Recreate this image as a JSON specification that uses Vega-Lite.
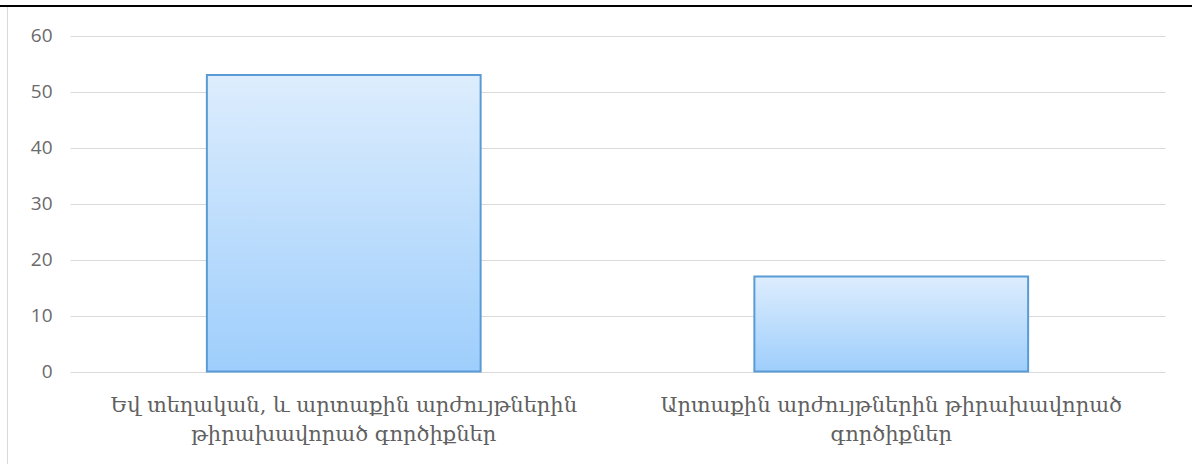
{
  "$schema": "https://vega.github.io/schema/vega-lite/v6.json",
  "width": 1192,
  "height": 458,
  "autosize": {"type": "none"},
  "padding": {"left": 0, "top": 6, "right": 0, "bottom": 0},
  "background": "white",
  "config": {"view": {"stroke": null}},
  "data": {
    "values": [
      {"category": "Եվ տեղական, և արտաքին արժույթներին\nթիրախավորած գործիքներ", "value": 53},
      {"category": "Արտաքին արժույթներին թիրախավորած\nգործիքներ", "value": 17}
    ]
  },
  "layer": [
    {
      "mark": {
        "type": "bar",
        "fill": {
          "gradient": "linear",
          "x1": 0, "y1": 0, "x2": 0, "y2": 1,
          "stops": [
            {"offset": 0, "color": "#ddedfd"},
            {"offset": 1, "color": "#9ecefc"}
          ]
        },
        "stroke": "#5b9bd5",
        "strokeWidth": 2
      },
      "encoding": {
        "x": {
          "field": "category",
          "type": "nominal",
          "sort": null,
          "scale": {"range": [70, 1165], "paddingInner": 0.5, "paddingOuter": 0.25},
          "axis": {
            "title": null,
            "orient": "bottom",
            "offset": -93,
            "domain": false,
            "ticks": false,
            "labelAngle": 0,
            "labelExpr": "split(datum.label, '\\n')",
            "labelFont": "DejaVu Serif",
            "labelFontSize": 21,
            "labelColor": "#606060",
            "labelPadding": 23,
            "labelLimit": 0,
            "labelLineHeight": 29
          }
        },
        "y": {
          "field": "value",
          "type": "quantitative",
          "scale": {"domain": [-16.506, 65.305], "nice": false, "zero": false},
          "axis": {
            "title": null,
            "values": [0, 10, 20, 30, 40, 50, 60],
            "offset": -7,
            "domainColor": "#d9d9d9",
            "ticks": false,
            "labelPadding": -45,
            "grid": true,
            "gridColor": "#d9d9d9",
            "labelFont": "Open Sans",
            "labelFontSize": 19,
            "labelColor": "#6a6a6a"
          }
        },
        "y2": {"datum": 0}
      }
    },
    {
      "mark": {"type": "rule", "color": "black", "strokeWidth": 2},
      "encoding": {"y": {"datum": 65.305}}
    }
  ]
}
